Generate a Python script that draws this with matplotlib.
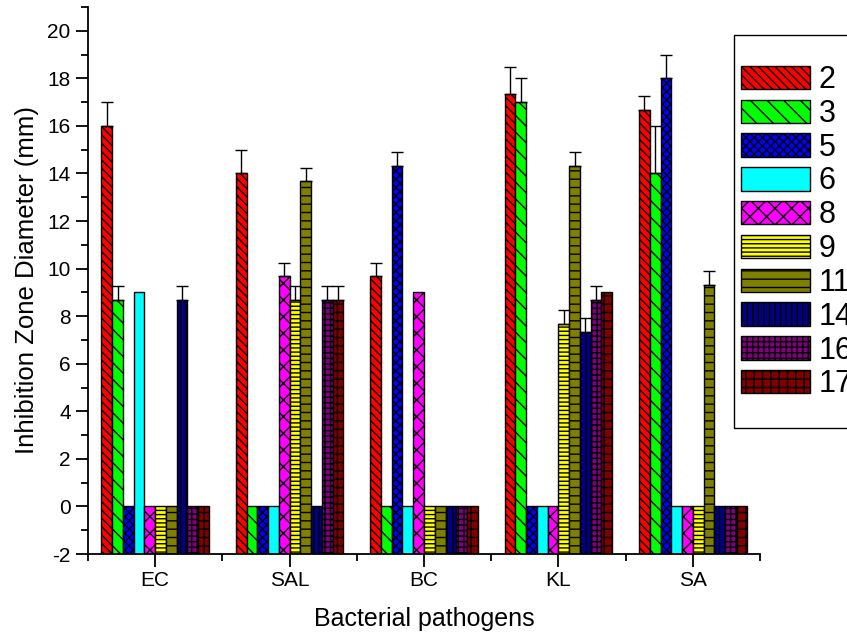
import numpy as np
import matplotlib
matplotlib.use("Agg")
import matplotlib.pyplot as plt
from matplotlib.patches import Rectangle

plt.rcParams['font.family'] = ['Liberation Sans', 'DejaVu Sans']
plt.rcParams['hatch.linewidth'] = 1.0
plt.rcParams['axes.unicode_minus'] = False

pathogens = ["EC", "SAL", "BC", "KL", "SA"]
compounds = ["2", "3", "5", "6", "8", "9", "11", "14", "16", "17"]

# inhibition zone (mm) per compound, one value per pathogen
values = {
    "2":  [16.0, 14.0, 9.67, 17.33, 16.67],
    "3":  [8.67, 0, 0, 17.0, 14.0],
    "5":  [0, 0, 14.33, 0, 18.0],
    "6":  [9.0, 0, 0, 0, 0],
    "8":  [0, 9.67, 9.0, 0, 0],
    "9":  [0, 8.67, 0, 7.67, 0],
    "11": [0, 13.67, 0, 14.33, 9.33],
    "14": [8.67, 0, 0, 7.33, 0],
    "16": [0, 8.67, 0, 8.67, 0],
    "17": [0, 8.67, 0, 9.0, 0],
}
errors = {
    "2":  [1.0, 1.0, 0.58, 1.15, 0.58],
    "3":  [0.58, 0, 0, 1.0, 2.0],
    "5":  [0, 0, 0.58, 0, 1.0],
    "6":  [0, 0, 0, 0, 0],
    "8":  [0, 0.58, 0, 0, 0],
    "9":  [0, 0.58, 0, 0.58, 0],
    "11": [0, 0.58, 0, 0.58, 0.58],
    "14": [0.58, 0, 0, 0.58, 0],
    "16": [0, 0.58, 0, 0.58, 0],
    "17": [0, 0.58, 0, 0, 0],
}

colors = ["#FF0000", "#00FF00", "#0000FF", "#00FFFF", "#FF00FF",
          "#FFFF00", "#808000", "#000080", "#800080", "#800000"]
hatches = ["\\\\\\\\", "\\\\", "xxxx", "", "xx", "----", "--", "|||", "+++", "++"]

fig = plt.figure(figsize=(8.47, 6.36), dpi=100)
ax = fig.add_axes([88/847, 82/636, (760-88)/847, (629-82)/636])

base = -2
width = 0.08
x = np.arange(len(pathogens))
handles = []
for i, c in enumerate(compounds):
    pos = x + (i - 4.5) * width
    v = np.array(values[c])
    e = np.array(errors[c])
    b = ax.bar(pos, v - base, width, bottom=base, color=colors[i],
               edgecolor="black", linewidth=1, hatch=hatches[i], zorder=2)
    handles.append(b)
    m = e > 0
    if m.any():
        ax.errorbar(pos[m], v[m], yerr=[np.zeros(m.sum()), e[m]], fmt="none",
                    ecolor="black", elinewidth=1, capsize=4.5, capthick=1, zorder=3)

ax.set_xlim(-0.5, 4.5)
ax.set_ylim(-2, 21)
ax.set_xticks(x)
ax.set_xticklabels(pathogens)
ax.set_xticks(np.arange(-0.5, 4.6, 1), minor=True)
ax.set_yticks(np.arange(-2, 21, 2))
ax.set_yticks(np.arange(-2, 22, 1), minor=True)
ax.tick_params(axis="both", which="major", direction="out", length=9, width=1.3, labelsize=15)
ax.tick_params(axis="both", which="minor", direction="out", length=5, width=1.3)
for s in ["top", "right"]:
    ax.spines[s].set_visible(False)
for s in ["left", "bottom"]:
    ax.spines[s].set_linewidth(1.3)

ax.set_xlabel("Bacterial pathogens", fontsize=18, labelpad=12)
ax.set_ylabel("Inhibition Zone Diameter (mm)", fontsize=18.5, labelpad=6)

# legend frame runs past the right edge, as in the original
fig.patches.append(Rectangle((734/847, 1-428/636), 0.3, (428-35)/636,
                             transform=fig.transFigure, fill=False,
                             edgecolor="black", linewidth=1))
fig.legend(handles, compounds, loc="upper left",
           bbox_to_anchor=(741/847, 1-65/636), frameon=False,
           fontsize=22, handlelength=2.25, handleheight=0.8,
           handletextpad=0.3, labelspacing=0.125, borderpad=0, borderaxespad=0)

fig.savefig("out.png", dpi=100)
